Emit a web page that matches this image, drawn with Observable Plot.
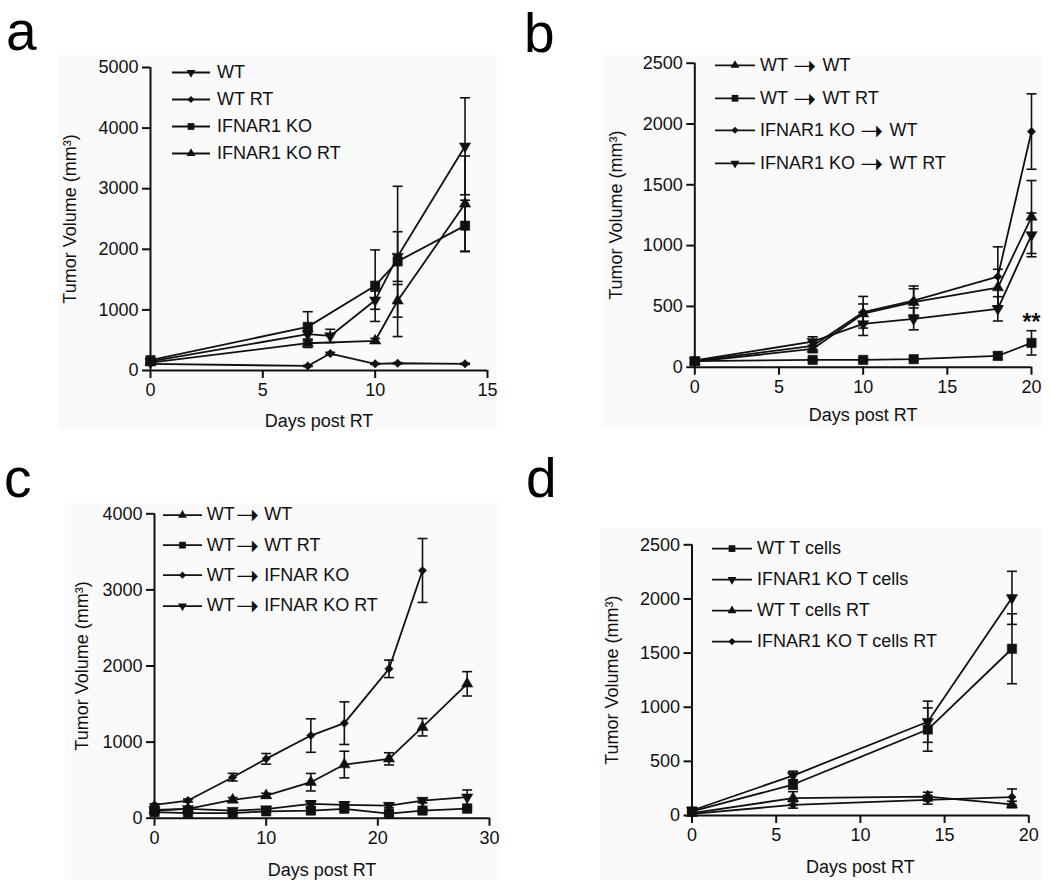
<!DOCTYPE html>
<html><head><meta charset="utf-8">
<script src="https://cdn.jsdelivr.net/npm/d3@7"></script>
<script src="https://cdn.jsdelivr.net/npm/@observablehq/plot@0.6"></script>
<style>
body{margin:0;background:#fff;width:1050px;height:887px;position:relative;overflow:hidden;font-family:"Liberation Sans",Arial,sans-serif;color:#111}
.bg{position:absolute;background:#fafafa}
.letter{position:absolute;font-size:55px;line-height:1;color:#000}
.plotbox{position:absolute}
.legend{position:absolute;font-size:18px}
.row{display:flex;align-items:center;white-space:nowrap}
.row svg{flex:none;overflow:visible}
.arrow{display:inline-block;font-family:"DejaVu Sans";font-size:28px;line-height:10px;height:10px;position:relative;top:4px;margin:0 6px 0 5px}
.arrow.tight{margin:0 5px 0 1px}
</style></head><body>
<script>
// ---------------- DATA ----------------
// Panel a
const aDaysWT = [0, 7, 8, 10, 11, 14];
const aDaysKO = [0, 7, 10, 11, 14];
const aWT      = [150, 600, 570, 1160, 1880, 3700];
const aWTsem   = [30, 100, 110, 150, 410, 800];
const aWTRT    = [110, 75, 280, 110, 120, 110];
const aWTRTsem = [10, 10, 20, 10, 10, 10];
const aKO      = [170, 720, 1400, 1800, 2390];
const aKOsem   = [30, 250, 590, 1240, 420];
const aKORT    = [130, 450, 490, 1150, 2750];
const aKORTsem = [20, 70, 40, 270, 790];
const aLabels  = ["WT", "WT RT", "IFNAR1 KO", "IFNAR1 KO RT"];

// Panel b
const bDays      = [0, 7, 10, 13, 18, 20];
const bWTWT      = [45, 150, 440, 535, 655, 1235];
const bWTWTsem   = [10, 30, 80, 110, 150, 300];
const bWTWTRT    = [50, 60, 60, 66, 93, 200];
const bWTWTRTsem = [10, 10, 10, 10, 30, 100];
const bKOWT      = [50, 175, 452, 548, 745, 1938];
const bKOWTsem   = [10, 30, 130, 120, 245, 310];
const bKOWTRT    = [55, 210, 356, 397, 480, 1088];
const bKOWTRTsem = [10, 40, 95, 90, 100, 180];
const bLabels    = ["WT ➝ WT", "WT ➝ WT RT", "IFNAR1 KO ➝ WT", "IFNAR1 KO ➝ WT RT"];
const bSignif    = [{day: 20, value: 365, label: "**"}];

// Panel c
const cDays      = [0, 3, 7, 10, 14, 17, 21, 24, 28];
const cDaysKO    = [0, 3, 7, 10, 14, 17, 21, 24];
const cWTWT      = [100, 123, 241, 298, 473, 705, 780, 1196, 1766];
const cWTWTsem   = [15, 20, 30, 30, 115, 175, 80, 115, 160];
const cWTWTRT    = [80, 66, 66, 90, 100, 123, 60, 100, 125];
const cWTWTRTsem = [15, 15, 15, 15, 30, 30, 20, 20, 20];
const cWTKO      = [175, 232, 539, 780, 1086, 1249, 1963, 3255];
const cWTKOsem   = [15, 20, 50, 70, 220, 280, 115, 420];
const cWTKORT    = [110, 123, 100, 120, 188, 175, 166, 232, 276];
const cWTKORTsem = [15, 15, 15, 15, 40, 40, 30, 30, 95];
const cLabels    = ["WT➝WT", "WT➝WT RT", "WT➝IFNAR KO", "WT➝IFNAR KO RT"];

// Panel d
const dDays     = [0, 6, 14, 19];
const dWT       = [37, 286, 794, 1540];
const dWTsem    = [10, 40, 200, 323];
const dKO       = [46, 369, 866, 2010];
const dKOsem    = [10, 40, 190, 245];
const dWTRT     = [22, 160, 175, 102];
const dWTRTsem  = [5, 60, 40, 30];
const dKORT     = [15, 98, 145, 170];
const dKORTsem  = [5, 30, 40, 75];
const dLabels   = ["WT T cells", "IFNAR1 KO T cells", "WT T cells RT", "IFNAR1 KO T cells RT"];

const xTitle = "Days post RT";
const yTitle = "Tumor Volume (mm³)";

// ---------------- CONFIG ----------------
const SYM = {
  up: {symbol: "triangle", rotate: 0, r: 4.2, lr: 3.3},
  down: {symbol: "triangle", rotate: 180, r: 4.2, lr: 3.3},
  square: {symbol: "square", rotate: 0, r: 5.3, lr: 3.8},
  diamond: {symbol: "diamond2", rotate: 0, r: 3.8, lr: 3.2}
};
const INK = "#111";
const capSymbol = {draw(ctx) { ctx.moveTo(-5, 0); ctx.lineTo(5, 0); }};

const panels = [
  {letter: "a", letterPos: [6, 50],
   svg: {left: 0, top: 40, width: 520, height: 410}, frame: {x0: 150, x1: 487, yt: 67, yb: 370},
   xDomain: [0, 15], xTicks: [0, 5, 10, 15], yDomain: [0, 5000], yTicks: [0, 1000, 2000, 3000, 4000, 5000],
   yTitleDx: -80, xTitleDy: 51, bg: [58, 55, 497, 430],
   legend: {x0: 172, x1: 210, tx: 217, y: 72, rowH: 27},
   series: [
     {label: aLabels[0], sym: "down", days: aDaysWT, mean: aWT, sem: aWTsem},
     {label: aLabels[1], sym: "diamond", days: aDaysWT, mean: aWTRT, sem: aWTRTsem},
     {label: aLabels[2], sym: "square", days: aDaysKO, mean: aKO, sem: aKOsem},
     {label: aLabels[3], sym: "up", days: aDaysKO, mean: aKORT, sem: aKORTsem}
   ]},
  {letter: "b", letterPos: [524, 51.5],
   svg: {left: 525, top: 40, width: 525, height: 410}, frame: {x0: 694.3, x1: 1031, yt: 62.7, yb: 366.7},
   xDomain: [0, 20], xTicks: [0, 5, 10, 15, 20], yDomain: [0, 2500], yTicks: [0, 500, 1000, 1500, 2000, 2500],
   yTitleDx: -79, xTitleDy: 48, bg: [603, 55, 1042, 427],
   legend: {x0: 715, x1: 755, tx: 760, y: 65.5, rowH: 32.6},
   annot: bSignif,
   series: [
     {label: bLabels[0], sym: "up", days: bDays, mean: bWTWT, sem: bWTWTsem},
     {label: bLabels[1], sym: "square", days: bDays, mean: bWTWTRT, sem: bWTWTRTsem},
     {label: bLabels[2], sym: "diamond", days: bDays, mean: bKOWT, sem: bKOWTsem},
     {label: bLabels[3], sym: "down", days: bDays, mean: bKOWTRT, sem: bKOWTRTsem}
   ]},
  {letter: "c", letterPos: [4, 496.5],
   svg: {left: 0, top: 480, width: 520, height: 407}, frame: {x0: 154, x1: 489, yt: 513.3, yb: 817.7},
   xDomain: [0, 30], xTicks: [0, 10, 20, 30], yDomain: [0, 4000], yTicks: [0, 1000, 2000, 3000, 4000],
   yTitleDx: -72, xTitleDy: 52, bg: [65, 503, 500, 880], tight: true,
   legend: {x0: 162.7, x1: 201.7, tx: 206.7, y: 515, rowH: 30.3},
   series: [
     {label: cLabels[0], sym: "up", days: cDays, mean: cWTWT, sem: cWTWTsem},
     {label: cLabels[1], sym: "square", days: cDays, mean: cWTWTRT, sem: cWTWTRTsem},
     {label: cLabels[2], sym: "diamond", days: cDaysKO, mean: cWTKO, sem: cWTKOsem},
     {label: cLabels[3], sym: "down", days: cDays, mean: cWTKORT, sem: cWTKORTsem}
   ]},
  {letter: "d", letterPos: [526, 496.5],
   svg: {left: 525, top: 480, width: 525, height: 407}, frame: {x0: 691.5, x1: 1028.3, yt: 544.3, yb: 815},
   xDomain: [0, 20], xTicks: [0, 5, 10, 15, 20], yDomain: [0, 2500], yTicks: [0, 500, 1000, 1500, 2000, 2500],
   yTitleDx: -79.5, xTitleDy: 52, bg: [600, 528, 1042, 880],
   legend: {x0: 711.7, x1: 751.7, tx: 757, y: 548.3, rowH: 31.2},
   series: [
     {label: dLabels[0], sym: "square", days: dDays, mean: dWT, sem: dWTsem},
     {label: dLabels[1], sym: "down", days: dDays, mean: dKO, sem: dKOsem},
     {label: dLabels[2], sym: "up", days: dDays, mean: dWTRT, sem: dWTRTsem},
     {label: dLabels[3], sym: "diamond", days: dDays, mean: dKORT, sem: dKORTsem}
   ]}
];

// ---------------- DRAW ----------------
function el(tag, cls, style) {
  const e = document.createElement(tag);
  if (cls) e.className = cls;
  Object.assign(e.style, style || {});
  document.body.appendChild(e);
  return e;
}

function drawPanel(p) {
  const [bx0, by0, bx1, by1] = p.bg;
  el("div", "bg", {left: bx0 + "px", top: by0 + "px", width: (bx1 - bx0) + "px", height: (by1 - by0) + "px"});

  const L = el("div", "letter", {left: p.letterPos[0] + "px", top: (p.letterPos[1] - 46) + "px"});
  L.textContent = p.letter;

  const rows = [];
  p.series.forEach((s, k) => {
    s.days.forEach((d, i) => rows.push({x: d, y: s.mean[i], lo: s.mean[i] - s.sem[i], hi: s.mean[i] + s.sem[i], s: k}));
  });
  const caps = rows.flatMap(r => [{x: r.x, y: r.lo}, {x: r.x, y: r.hi}]);

  const marks = [
    Plot.ruleX(rows, {x: "x", y1: "lo", y2: "hi", stroke: INK, strokeWidth: 1.6}),
    Plot.dot(caps, {x: "x", y: "y", symbol: capSymbol, r: 5, fill: "none", stroke: INK, strokeWidth: 1.6}),
    Plot.line(rows, {x: "x", y: "y", z: "s", stroke: INK, strokeWidth: 1.8}),
  ];
  p.series.forEach((s, k) => {
    const m = SYM[s.sym];
    marks.push(Plot.dot(rows.filter(r => r.s === k), {x: "x", y: "y", symbol: m.symbol, rotate: m.rotate, r: m.r, fill: INK, stroke: INK, strokeWidth: 0.5}));
  });
  marks.push(
    Plot.axisX({ticks: p.xTicks, tickSize: 8, tickPadding: 5, strokeWidth: 2, label: null, tickFormat: d3.format("d")}),
    Plot.axisY({ticks: p.yTicks, tickSize: 8, tickPadding: 4, strokeWidth: 2, label: null, tickFormat: d3.format("d")}),
    Plot.ruleX([p.xDomain[0]], {stroke: INK, strokeWidth: 2}),
    Plot.ruleY([p.yDomain[0]], {stroke: INK, strokeWidth: 2}),
    Plot.text([xTitle], {frameAnchor: "bottom", dy: p.xTitleDy, lineAnchor: "middle", fontSize: 18, fill: INK}),
    Plot.text([yTitle], {frameAnchor: "left", dx: p.yTitleDx, rotate: -90, lineAnchor: "middle", textAnchor: "middle", fontSize: 18, fill: INK})
  );
  if (p.annot) {
    marks.push(Plot.text(p.annot, {x: "day", y: "value", text: "label", fontSize: 23, fontWeight: "bold", fill: INK}));
  }

  const f = p.frame, sv = p.svg;
  const chart = Plot.plot({
    width: sv.width, height: sv.height,
    marginLeft: f.x0 - sv.left, marginRight: sv.left + sv.width - f.x1,
    marginTop: f.yt - sv.top, marginBottom: sv.top + sv.height - f.yb,
    x: {domain: p.xDomain},
    y: {domain: p.yDomain},
    style: {fontFamily: "'Liberation Sans', Arial, sans-serif", fontSize: "18px", color: INK, background: "transparent", overflow: "visible"},
    marks
  });
  const box = el("div", "plotbox", {left: sv.left + "px", top: sv.top + "px"});
  box.appendChild(chart);

  const lg = p.legend;
  const leg = el("div", "legend", {left: lg.x0 + "px", top: (lg.y - lg.rowH / 2) + "px"});
  p.series.forEach(s => {
    const row = document.createElement("div");
    row.className = "row";
    row.style.height = lg.rowH + "px";
    const w = lg.x1 - lg.x0;
    const svg = d3.create("svg").attr("width", w).attr("height", lg.rowH);
    svg.append("line").attr("x1", 0).attr("x2", w).attr("y1", lg.rowH / 2).attr("y2", lg.rowH / 2).attr("stroke", INK).attr("stroke-width", 1.8);
    const m = SYM[s.sym];
    const type = {triangle: d3.symbolTriangle, square: d3.symbolSquare, diamond2: d3.symbolDiamond2}[m.symbol];
    svg.append("path").attr("d", d3.symbol(type, Math.PI * m.lr * m.lr)())
      .attr("transform", `translate(${w / 2},${lg.rowH / 2}) rotate(${m.rotate})`).attr("fill", INK);
    row.appendChild(svg.node());
    const t = document.createElement("span");
    t.style.marginLeft = (lg.tx - lg.x1) + "px";
    const parts = s.label.split("➝");
    parts.forEach((part, i) => {
      if (i > 0) {
        const a = document.createElement("span");
        a.className = "arrow" + (p.tight ? " tight" : "");
        a.textContent = "➝";
        t.appendChild(a);
      }
      t.appendChild(document.createTextNode(part.trim()));
    });
    row.appendChild(t);
    leg.appendChild(row);
  });
}

panels.forEach(drawPanel);
</script>
</body></html>
